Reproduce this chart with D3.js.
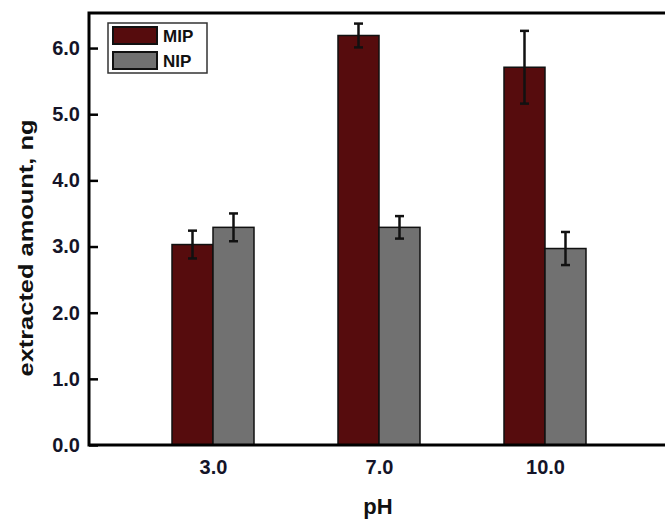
<!DOCTYPE html>
<html>
<head>
<meta charset="utf-8">
<script src="https://cdn.jsdelivr.net/npm/d3@7"></script>
<style>
  body { margin: 0; background: #fff; }
  text { font-family: "Liberation Sans", Arial, sans-serif; font-weight: bold; }
</style>
</head>
<body>
<div id="chart"></div>
<script>
// data
var phLabels = ["3.0", "7.0", "10.0"]
var seriesNames = ["MIP", "NIP"]
var mipValues = [3.03, 6.19, 5.71]
var mipErrors = [0.21, 0.18, 0.55]
var nipValues = [3.29, 3.29, 2.97]
var nipErrors = [0.21, 0.17, 0.25]
var yTicks = [0, 1, 2, 3, 4, 5, 6]

var colors = { MIP: "#560c0d", NIP: "#717171" }

var width = 665, height = 521
// plot frame (right edge sits just past the window, like the original)
var plotLeft = 89, plotRight = 669, plotTop = 13, plotBottom = 445

var svg = d3.select("#chart")
    .append("svg")
    .attr("width", width)
    .attr("height", height)

// scales
var x = d3.scalePoint()
    .domain(phLabels)
    .range([plotLeft, plotRight])
    .padding(0.747)

var sub = d3.scaleBand()
    .domain(seriesNames)
    .range([-41, 41])

var y = d3.scaleLinear()
    .domain([0, 6.53])
    .range([plotBottom, plotTop])

// build rows for bars
var rows = []
phLabels.forEach(function (p, i) {
    rows.push({ ph: p, key: "MIP", v: mipValues[i], e: mipErrors[i] })
    rows.push({ ph: p, key: "NIP", v: nipValues[i], e: nipErrors[i] })
})

// bars
svg.append("g")
    .selectAll("rect")
    .data(rows)
    .enter().append("rect")
    .attr("x", function (d) { return x(d.ph) + sub(d.key) })
    .attr("y", function (d) { return y(d.v) })
    .attr("width", sub.bandwidth())
    .attr("height", function (d) { return y(0) - y(d.v) })
    .attr("fill", function (d) { return colors[d.key] })
    .attr("stroke", "#111")
    .attr("stroke-width", 1.5)

// error bars
var err = svg.append("g")
    .attr("stroke", "#111")
    .attr("stroke-width", 2.5)
    .selectAll("g")
    .data(rows)
    .enter().append("g")
    .attr("transform", function (d) {
        return "translate(" + (x(d.ph) + sub(d.key) + sub.bandwidth() / 2) + ",0)"
    })
err.append("line")
    .attr("y1", function (d) { return y(d.v - d.e) })
    .attr("y2", function (d) { return y(d.v + d.e) })
err.append("line")
    .attr("x1", -4.5).attr("x2", 4.5)
    .attr("y1", function (d) { return y(d.v + d.e) })
    .attr("y2", function (d) { return y(d.v + d.e) })
err.append("line")
    .attr("x1", -4.5).attr("x2", 4.5)
    .attr("y1", function (d) { return y(d.v - d.e) })
    .attr("y2", function (d) { return y(d.v - d.e) })

// y axis, ticks pointing in
var yAxis = svg.append("g")
    .attr("transform", "translate(" + plotLeft + ",0)")
    .call(d3.axisLeft(y)
        .tickValues(yTicks)
        .tickFormat(d3.format(".1f"))
        .tickSizeInner(-9)
        .tickSizeOuter(0)
        .tickPadding(9))
yAxis.select(".domain").remove()
yAxis.selectAll("line").attr("stroke", "#000").attr("stroke-width", 2.5)
yAxis.selectAll("text")
    .attr("font-size", 20)
    .attr("fill", "#141428")
    .attr("font-family", "Liberation Sans, Arial, sans-serif")
    .attr("font-weight", "bold")

// x axis
var xAxis = svg.append("g")
    .attr("transform", "translate(0," + plotBottom + ")")
    .call(d3.axisBottom(x).tickSize(0).tickPadding(15))
xAxis.select(".domain").remove()
xAxis.selectAll("text")
    .attr("font-size", 20)
    .attr("fill", "#141428")
    .attr("font-family", "Liberation Sans, Arial, sans-serif")
    .attr("font-weight", "bold")

// frame
svg.append("rect")
    .attr("x", plotLeft)
    .attr("y", plotTop)
    .attr("width", plotRight - plotLeft)
    .attr("height", plotBottom - plotTop)
    .attr("fill", "none")
    .attr("stroke", "#000")
    .attr("stroke-width", 3)

// axis titles
svg.append("text")
    .attr("transform", "translate(33,248) rotate(-90)")
    .attr("text-anchor", "middle")
    .attr("font-size", 20)
    .attr("textLength", 257)
    .attr("lengthAdjust", "spacingAndGlyphs")
    .attr("fill", "#111")
    .text("extracted amount, ng")

svg.append("text")
    .attr("x", 378)
    .attr("y", 514)
    .attr("text-anchor", "middle")
    .attr("font-size", 22)
    .attr("fill", "#111")
    .text("pH")

// legend
var legend = svg.append("g")
legend.append("rect")
    .attr("x", 108).attr("y", 23)
    .attr("width", 99).attr("height", 50)
    .attr("fill", "#fff")
    .attr("stroke", "#333")
    .attr("stroke-width", 1.5)
var li = legend.selectAll("g")
    .data(seriesNames)
    .enter().append("g")
    .attr("transform", function (d, i) { return "translate(0," + (i * 25) + ")" })
li.append("rect")
    .attr("x", 113).attr("y", 27)
    .attr("width", 44).attr("height", 17)
    .attr("fill", function (d) { return colors[d] })
    .attr("stroke", "#111")
    .attr("stroke-width", 2)
li.append("text")
    .attr("x", 163).attr("y", 42)
    .attr("font-size", 17)
    .attr("fill", "#111")
    .text(function (d) { return d })
</script>
</body>
</html>
